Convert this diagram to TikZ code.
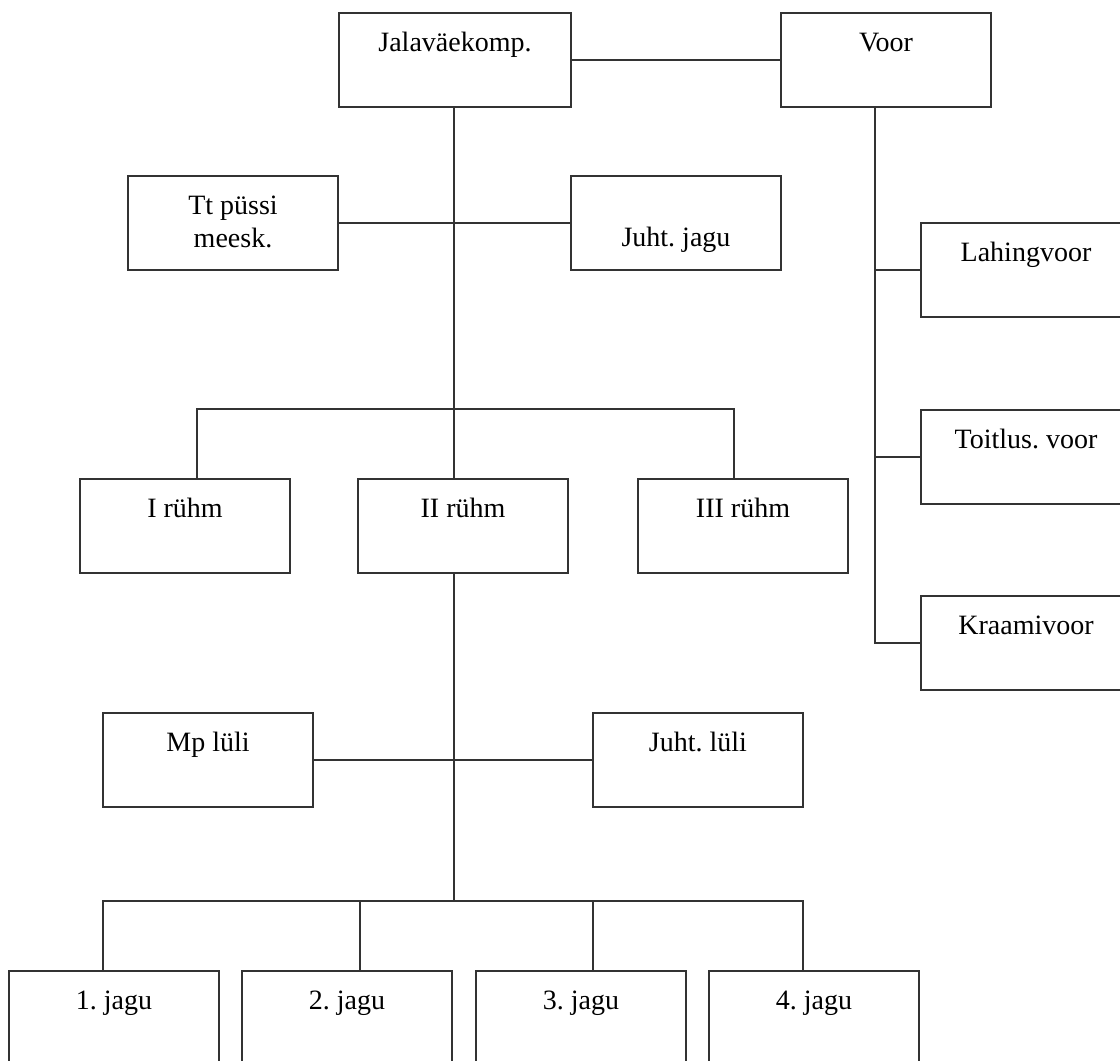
\documentclass[tikz,border=0pt]{standalone}
\usepackage{fontspec}
\setmainfont{Liberation Serif}
\usepackage{tikz}
\frenchspacing

\begin{document}
\begin{tikzpicture}[x=0.5pt,y=-0.5pt]
        \tikzstyle{unode} = [draw=black!80, line width=1pt, rectangle, minimum width=105pt, minimum height=47pt, inner sep=0pt, text height=19pt, text depth=28pt, font=\fontsize{14}{16.5}\selectfont]
        \tikzstyle{conn} = [draw=black!80, line width=1pt]

        \useasboundingbox (0,0) rectangle (1120,1061);

        \node[unode, minimum width=116pt] (komp) at (455,60) {Jalaväekomp.};
        \node[unode] (voor) at (886,60) {Voor};

        \node[unode] (tt) at (233,223) {\begin{tabular}[t]{@{}c@{}}Tt püssi\\ meesk.\end{tabular}};
        \node[unode, text height=35pt, text depth=12pt] (juhtjagu) at (676,223) {Juht. jagu};

        \node[unode] (lahing) at (1026,270) {Lahingvoor};
        \node[unode] (toitlus) at (1026,457) {Toitlus. voor};
        \node[unode] (kraami) at (1026,643) {Kraamivoor};

        \node[unode] (r1) at (185,526) {I rühm};
        \node[unode] (r2) at (463,526) {II rühm};
        \node[unode] (r3) at (743,526) {III rühm};

        \node[unode] (mp) at (208,760) {Mp lüli};
        \node[unode] (juhtluli) at (698,760) {Juht. lüli};

        \node[unode] (jagu1) at (114,1018) {1. jagu};
        \node[unode] (jagu2) at (347,1018) {2. jagu};
        \node[unode] (jagu3) at (581,1018) {3. jagu};
        \node[unode] (jagu4) at (814,1018) {4. jagu};

        \coordinate (b1) at (197,409);
        \coordinate (b2) at (454,409);
        \coordinate (b3) at (734,409);
        \coordinate (vv) at (875,643);
        \coordinate (j1) at (103,901);
        \coordinate (j2) at (360,901);
        \coordinate (j3) at (593,901);
        \coordinate (j4) at (803,901);

        \draw[conn] (komp.east) -- (voor.west);
        \draw[conn] (tt.east) -- (juhtjagu.west);
        \draw[conn] (mp.east) -- (juhtluli.west);

        \draw[conn] (b2 |- komp.south) -- (b2 |- r2.north);
        \draw[conn] (b1 |- r1.north) -- (b1) -- (b3) -- (b3 |- r3.north);
        \draw[conn] (b2 |- r2.south) -- (b2 |- j1);

        \draw[conn] (vv |- voor.south) -- (vv) -- (kraami.west);
        \draw[conn] (vv |- lahing.west) -- (lahing.west);
        \draw[conn] (vv |- toitlus.west) -- (toitlus.west);

        \draw[conn] (j1 |- jagu1.north) -- (j1) -- (j4) -- (j4 |- jagu4.north);
        \draw[conn] (j2) -- (j2 |- jagu2.north);
        \draw[conn] (j3) -- (j3 |- jagu3.north);
      \end{tikzpicture}
\end{document}
